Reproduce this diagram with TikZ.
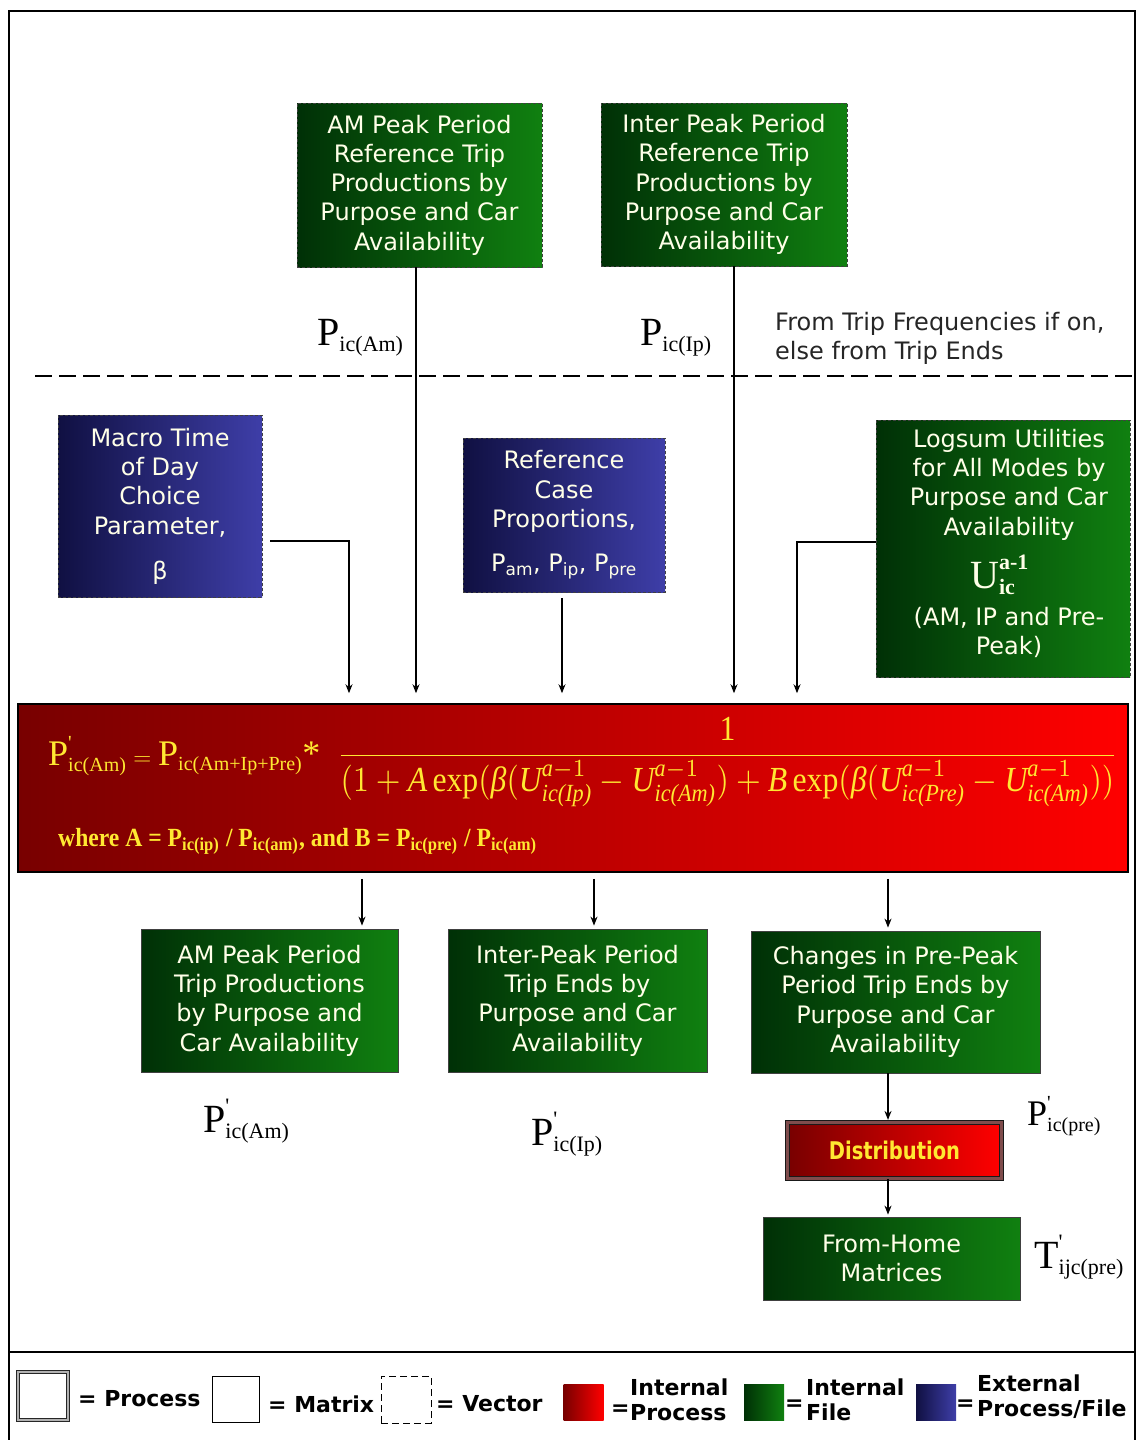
\documentclass[tikz,border=0pt]{standalone}
\usepackage[no-math]{fontspec}
\usepackage{amsmath}
\usepackage{graphicx}
\setmainfont{DejaVu Sans}
\newfontfamily\tnr{Liberation Serif}
\usetikzlibrary{arrows.meta}
\DeclareMathSizes{40}{40}{22}{16}
\DeclareMathSizes{36}{36}{20}{14}
\DeclareMathSizes{24}{24}{17}{12}
\newcommand\Tx[1]{\text{\tnr #1}}
\newcommand\Ti[1]{\text{\tnr\itshape #1}}
\newcommand\Tb[1]{\text{\tnr\bfseries #1}}
\definecolor{gA}{RGB}{0,48,6}
\definecolor{gB}{RGB}{16,128,16}
\definecolor{bA}{RGB}{16,16,66}
\definecolor{bB}{RGB}{62,62,168}
\definecolor{rA}{RGB}{120,0,0}
\definecolor{rB}{RGB}{255,0,0}
\definecolor{fyel}{RGB}{255,232,50}
\definecolor{txw}{RGB}{255,255,232}
\tikzset{
  boxfont/.style={font=\fontsize{24}{29.3}\selectfont},
  gbox/.style={left color=gA, right color=gB, draw=black!75, line width=0.8pt,
    text=txw, align=center, inner sep=0pt, boxfont},
  bbox/.style={left color=bA, right color=bB, draw=black!75, line width=0.8pt,
    text=txw, align=center, inner sep=0pt, boxfont},
  vec/.style={dash pattern=on 3pt off 2pt},
  arr/.style={-{Stealth[length=9pt,width=7pt]}, line width=1.3pt},
  serlab/.style={inner sep=0pt, font=\fontsize{40}{44}\selectfont},
  legtxt/.style={font=\bfseries\fontsize{22}{25}\selectfont, inner sep=0pt, align=left},
  swatch/.style={minimum width=40pt, minimum height=36pt, inner sep=0pt},
}
\begin{document}
\begin{tikzpicture}[x=1pt, y=-1pt]
\useasboundingbox (0,0) rectangle (1138,1440);
\fill[white] (0,0) rectangle (1138,1440);
% frame
\draw[line width=2.5pt] (9,11) rectangle (1135,1448);
\draw[line width=2.5pt] (9,1352) -- (1135,1352);
\draw[line width=1.5pt, dash pattern=on 17pt off 7pt] (35,376) -- (1135,376);

% top vector boxes
\node[gbox, vec, minimum width=245pt, minimum height=164pt] (amref) at (419.5,185)
  {AM Peak Period\\Reference Trip\\Productions by\\Purpose and Car\\Availability};
\node[gbox, vec, minimum width=246pt, minimum height=163pt] (ipref) at (724,184.5)
  {Inter Peak Period\\Reference Trip\\Productions by\\Purpose and Car\\Availability};

\node[serlab, anchor=base west] (lpam) at (317,345) {$\Tx{P}_{\Tx{ic(Am)}}$};
\node[serlab, anchor=base west] (lpip) at (640,345) {$\Tx{P}_{\Tx{ic(Ip)}}$};
\node[boxfont, inner sep=0pt, anchor=west, align=left, text=black!85] (fromtf) at (775,338.5)
  {From Trip Frequencies if on,\\else from Trip Ends};

% input boxes
\node[bbox, vec, minimum width=204pt, minimum height=182pt] (macro) at (160,506)
  {Macro Time\\of Day\\Choice\\Parameter,\\[15.7pt]β};
\node[bbox, vec, minimum width=202pt, minimum height=154pt] (refcase) at (564,515)
  {Reference\\Case\\Proportions,\\[15pt]P\textsubscript{am}, P\textsubscript{ip}, P\textsubscript{pre}};
\node[gbox, vec, minimum width=254pt, minimum height=257pt] (logsum) at (1003,548.5) {};
\node[boxfont, text=txw, align=center, inner sep=0pt] (lgsA) at (1009,484.7)
  {Logsum Utilities\\for All Modes by\\Purpose and Car\\Availability};
\node[inner sep=0pt, anchor=base west, text=txw, font=\fontsize{40}{44}\selectfont] (lgsU) at (970,588)
  {$\Tx{U}^{\Tb{a-1}}_{\Tb{ic}}$};
\node[boxfont, text=txw, align=center, inner sep=0pt] (lgsB) at (1009,632.5)
  {(AM, IP and Pre-\\Peak)};

% formula box
\node[draw=black, line width=1.5pt, left color=rA, right color=rB, minimum width=1110pt,
  minimum height=168pt, inner sep=0pt] (formula) at (573,788) {};
\node[anchor=base west, inner sep=0pt, text=fyel, font=\fontsize{36}{40}\selectfont] (fleft) at (48,765)
  {$\Tx{P}^{\Tx{'}}_{\Tx{ic(Am)}} = \Tx{P}_{\Tx{ic(Am+Ip+Pre)}}$\Tx{*}};
\node[inner sep=0pt, text=fyel] (ffrac) at (727.5,762)
  {\resizebox*{781pt}{90pt}{$\displaystyle\frac{\Tx{1}}{(1+\Ti{A}\,\Tx{exp}(\Ti{β}(\Ti{U}^{\Ti{a}-1}_{\Ti{ic(Ip)}}-\Ti{U}^{\Ti{a}-1}_{\Ti{ic(Am)}})+\Ti{B}\,\Tx{exp}(\Ti{β}(\Ti{U}^{\Ti{a}-1}_{\Ti{ic(Pre)}}-\Ti{U}^{\Ti{a}-1}_{\Ti{ic(Am)}}))}$}};
\node[anchor=west, inner sep=0pt, text=fyel] (fwhere) at (58,841)
  {\resizebox*{479pt}{26pt}{\tnr\bfseries where A = P\textsubscript{ic(ip)} / P\textsubscript{ic(am)}, and B = P\textsubscript{ic(pre)} / P\textsubscript{ic(am)}}};

% output boxes
\node[gbox, minimum width=257pt, minimum height=143pt] (amout) at (269.5,1000.5)
  {AM Peak Period\\Trip Productions\\by Purpose and\\Car Availability};
\node[gbox, minimum width=259pt, minimum height=143pt] (ipout) at (577.5,1000.5)
  {Inter-Peak Period\\Trip Ends by\\Purpose and Car\\Availability};
\node[gbox, minimum width=289pt, minimum height=142pt] (preout) at (895.5,1002)
  {Changes in Pre-Peak\\Period Trip Ends by\\Purpose and Car\\Availability};

\node[serlab, anchor=base west] (lpam2) at (203,1132) {$\Tx{P}^{\Tx{'}}_{\Tx{ic(Am)}}$};
\node[serlab, anchor=base west] (lpip2) at (531,1145) {$\Tx{P}^{\Tx{'}}_{\Tx{ic(Ip)}}$};
\node[serlab, font=\fontsize{36}{40}\selectfont, anchor=base west] (lppre) at (1027,1125) {$\Tx{P}^{\Tx{'}}_{\Tx{ic(pre)}}$};

\node[left color=rA, right color=rB, draw=black!90, line width=1.2pt, double=rA!60!black!70,
  double distance=2.5pt, minimum width=214pt, minimum height=56pt, text=fyel,
  font=\bfseries\fontsize{19.5}{24}\selectfont] (dist) at (894.5,1150.5) {\scalebox{1}[1.25]{Distribution}};
\node[gbox, minimum width=257pt, minimum height=83pt] (fromhome) at (891.5,1258.5)
  {From-Home\\Matrices};
\node[serlab, anchor=base west] (ltij) at (1034,1268) {$\Tx{T}^{\Tx{'}}_{\Tx{ijc(pre)}}$};

% connectors
\coordinate (xa) at (349,0);
\coordinate (xb) at (416,0);
\coordinate (xc) at (562,0);
\coordinate (xd) at (734,0);
\coordinate (xe) at (797,0);
\coordinate (xf) at (362,0);
\coordinate (xg) at (594,0);
\coordinate (xh) at (888,0);
\draw[arr, shorten >=10pt] ([xshift=8pt,yshift=-35pt]macro.east) -| (xa |- formula.north);
\draw[arr, shorten >=10pt] (amref.south -| xb) -- (xb |- formula.north);
\draw[arr, shorten <=6pt, shorten >=10pt] (refcase.south -| xc) -- (xc |- formula.north);
\draw[arr, shorten >=10pt] (ipref.south -| xd) -- (xd |- formula.north);
\draw[arr, shorten >=10pt] ([yshift=6.5pt]logsum.west) -| (xe |- formula.north);
\draw[arr, shorten <=6pt, shorten >=3pt] (formula.south -| xf) -- (xf |- amout.north);
\draw[arr, shorten <=6pt, shorten >=3pt] (formula.south -| xg) -- (xg |- ipout.north);
\draw[arr, shorten <=6pt, shorten >=3pt] (formula.south -| xh) -- (xh |- preout.north);
\draw[arr, shorten >=2pt] (preout.south -| xh) -- (xh |- dist.north);
\draw[arr, shorten >=2pt] (dist.south -| xh) -- (xh |- fromhome.north);

% legend
\node[draw=black!85, line width=1pt, double=black!30, double distance=2.5pt,
  minimum width=50pt, minimum height=48pt, inner sep=0pt] (lgproc) at (43,1396) {};
\node[legtxt, anchor=west] (lgproct) at (78,1399) {= Process};
\node[draw=black, line width=1pt, minimum width=47pt, minimum height=46pt, inner sep=0pt] (lgmat) at (235.5,1399) {};
\node[legtxt, anchor=west] (lgmatt) at (268,1404) {= Matrix};
\node[draw=black, line width=1pt, dash pattern=on 7pt off 4pt, minimum width=50pt,
  minimum height=47pt, inner sep=0pt] (lgvec) at (406,1399.5) {};
\node[legtxt, anchor=west] (lgvect) at (436,1404) {= Vector};
\node[swatch, left color=rA, right color=rB] (lgred) at (583.5,1402) {};
\node[legtxt, anchor=west] (lgredeq) at (611,1410) {=};
\node[legtxt, anchor=west] (lgredt) at (630,1400) {Internal\\Process};
\node[swatch, left color=gA, right color=gB] (lggrn) at (764,1402) {};
\node[legtxt, anchor=west] (lggrneq) at (785,1405) {=};
\node[legtxt, anchor=west] (lggrnt) at (806,1400) {Internal\\File};
\node[swatch, left color=bA, right color=bB] (lgblu) at (936,1402) {};
\node[legtxt, anchor=west] (lgblueq) at (956,1405) {=};
\node[legtxt, anchor=west] (lgblut) at (977,1397) {External\\Process/File};
\end{tikzpicture}
\end{document}
